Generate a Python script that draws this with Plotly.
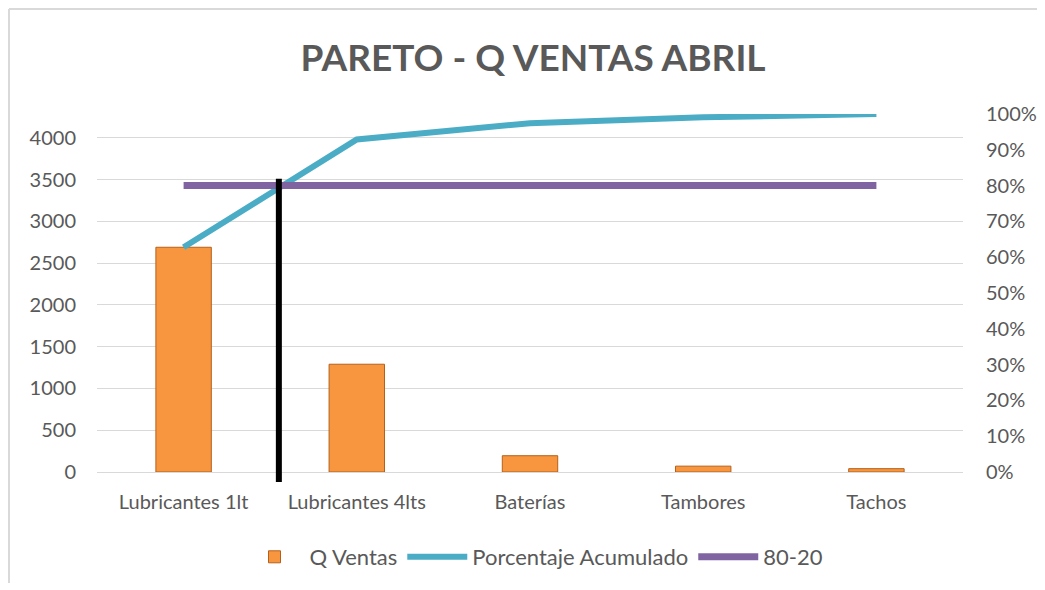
import plotly.graph_objects as go

categories = ["Lubricantes 1lt", "Lubricantes 4lts", "Baterías", "Tambores", "Tachos"]
q_ventas = [2690, 1290, 195, 70, 40]
total = sum(q_ventas)
acumulado = []
run = 0
for v in q_ventas:
    run += v
    acumulado.append(run / total)
linea_80_20 = [0.8] * len(categories)
left_ticks = [0, 500, 1000, 1500, 2000, 2500, 3000, 3500, 4000]
right_ticks = [i / 10 for i in range(11)]
corte_x = 0.55     # separation line position (category units)
corte_top = 3510   # separation line top (primary units)

# page body has an 8px margin, so the figure is a little smaller than the window
W, H = 1030, 575
ML, MR, MT, MB = 89, 75, 106, 111
pw, ph = W - ML - MR, H - MT - MB

FONT = "Lato, Open Sans, sans-serif"
GREY = "#595959"

fig = go.Figure()
fig.add_trace(go.Bar(
    x=categories, y=q_ventas, name="Q Ventas",
    marker=dict(color="#F7963F", line=dict(color="#B5601A", width=1)),
    width=0.32,
))
fig.add_trace(go.Scatter(
    x=categories, y=acumulado, name="Porcentaje Acumulado", yaxis="y2",
    mode="lines", line=dict(color="#4BACC6", width=6),
))
fig.add_trace(go.Scatter(
    x=categories, y=linea_80_20, name="80-20", yaxis="y2",
    mode="lines", line=dict(color="#8064A2", width=7),
))

fig.add_shape(type="line", xref="x", yref="paper", x0=corte_x, x1=corte_x,
              y0=-10 / ph, y1=corte_top / total, line=dict(color="black", width=6))

# chart area border (left and top)
bx = (1 - ML) / pw
by = (H - MB - 1) / ph
fig.add_shape(type="line", xref="paper", yref="paper", x0=bx, x1=bx, y0=-2, y1=by,
              line=dict(color="#D9D9D9", width=2))
fig.add_shape(type="line", xref="paper", yref="paper", x0=bx, x1=2, y0=by, y1=by,
              line=dict(color="#D9D9D9", width=2))

fig.update_layout(
    width=W, height=H,
    margin=dict(l=ML, r=MR, t=MT, b=MB, autoexpand=False),
    paper_bgcolor="white", plot_bgcolor="white",
    font=dict(family=FONT, color=GREY, size=20),
    title=dict(text="<b>PARETO - Q VENTAS ABRIL</b>", x=525 / W, xanchor="center",
               y=1 - 50 / H, yanchor="middle",
               font=dict(size=37, color=GREY, family=FONT)),
    xaxis=dict(showgrid=False, showline=True, linecolor="#D9D9D9", linewidth=1,
               ticks="", tickfont=dict(size=20, color=GREY), ticklabelstandoff=12,
               automargin=False),
    yaxis=dict(range=[0, total], tickvals=left_ticks, showgrid=True,
               gridcolor="#D9D9D9", gridwidth=1, zeroline=False, showline=False,
               tickfont=dict(size=20, color=GREY), ticklabelstandoff=20,
               automargin=False),
    yaxis2=dict(range=[0, 1], overlaying="y", side="right", tickvals=right_ticks,
                tickformat=".0%", showgrid=False, zeroline=False, showline=False,
                tickfont=dict(size=20, color=GREY), ticklabelstandoff=22,
                automargin=False),
    legend=dict(orientation="h", x=526 / W, xref="container", xanchor="center",
                y=-(549 - (H - MB)) / ph, yanchor="middle",
                font=dict(size=22, color=GREY), itemwidth=60,
                traceorder="normal"),
    bargap=0.68,
    showlegend=True,
)

fig.write_html("out.html")
